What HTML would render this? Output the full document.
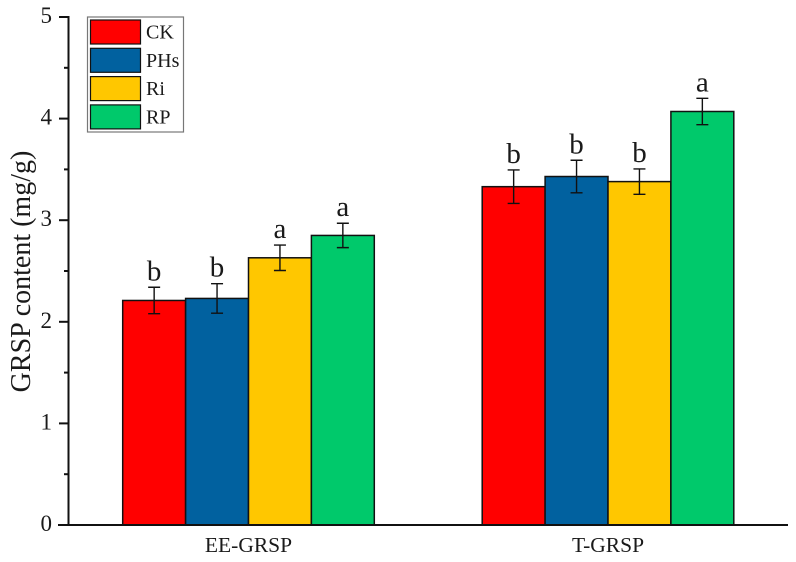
<!DOCTYPE html>
<html>
<head>
<meta charset="utf-8">
<style>
html,body{margin:0;padding:0;background:#fff;}
svg{display:block;}
text{font-family:"Liberation Serif",serif;fill:#1a1a1a;}
</style>
</head>
<body>
<svg id="chart" width="796" height="562" viewBox="0 0 796 562" xmlns="http://www.w3.org/2000/svg">
  <rect x="0" y="0" width="796" height="562" fill="#fff"/>
  <g id="bars"></g>
  <g id="errors"></g>
  <g id="letters"></g>
  <g id="axes"></g>
  <text transform="translate(30,271.5) rotate(-90)" text-anchor="middle" font-size="28">GRSP content (mg/g)</text>
  <g id="legend"></g>
</svg>
<script>
const categories = ['EE-GRSP', 'T-GRSP'];
const seriesNames = ['CK', 'PHs', 'Ri', 'RP'];
const seriesColors = ['#ff0000', '#01619f', '#ffc700', '#00c96b'];
const valuesCK = [2.21, 3.33];
const valuesPHs = [2.23, 3.43];
const valuesRi = [2.63, 3.38];
const valuesRP = [2.85, 4.07];
const errorsCK = [0.13, 0.165];
const errorsPHs = [0.145, 0.16];
const errorsRi = [0.125, 0.125];
const errorsRP = [0.12, 0.13];
const lettersCK = ['b', 'b'];
const lettersPHs = ['b', 'b'];
const lettersRi = ['a', 'b'];
const lettersRP = ['a', 'a'];
const yTickLabels = [0, 1, 2, 3, 4, 5];

const NS = 'http://www.w3.org/2000/svg';
const seriesValues = [valuesCK, valuesPHs, valuesRi, valuesRP];
const seriesErrors = [errorsCK, errorsPHs, errorsRi, errorsRP];
const seriesLetters = [lettersCK, lettersPHs, lettersRi, lettersRP];
const yMin = 0, yMax = 5, plotTop = 17, plotBottom = 525;
const axisX = 68.5, axisEnd = 788;
const groupCenter0 = 248.5, groupStep = 359.5, barWidth = 62.9;
const y = v => plotBottom - (v - yMin) / (yMax - yMin) * (plotBottom - plotTop);
const groupCenter = i => groupCenter0 + i * groupStep;
const barX = (g, s) => groupCenter(g) + (s - seriesNames.length / 2) * barWidth;

function mk(parent, tag, attrs, txt) {
  const el = document.createElementNS(NS, tag);
  for (const k in attrs) el.setAttribute(k, attrs[k]);
  if (txt !== undefined) el.textContent = txt;
  parent.appendChild(el);
  return el;
}

const barsG = document.getElementById('bars');
const errG = document.getElementById('errors');
const letG = document.getElementById('letters');
const axesG = document.getElementById('axes');
const legG = document.getElementById('legend');

categories.forEach((cat, g) => {
  seriesNames.forEach((name, s) => {
    const v = seriesValues[s][g], e = seriesErrors[s][g];
    const x = barX(g, s), cx = x + barWidth / 2;
    const bar = mk(barsG, 'rect', {x: x, y: y(v), width: barWidth, height: plotBottom - y(v), fill: seriesColors[s], stroke: '#111', 'stroke-width': 1.5});
    
    
    const eb = mk(errG, 'path', {d: `M${cx - 6} ${y(v + e)}H${cx + 6}M${cx} ${y(v + e)}V${y(v - e)}M${cx - 6} ${y(v - e)}H${cx + 6}`, fill: 'none', stroke: '#111', 'stroke-width': 1.4});
    
    
    const lt = mk(letG, 'text', {x: cx, y: y(v + e) - 7, 'text-anchor': 'middle', 'font-size': 29}, seriesLetters[s][g]);
    
    
  });
  const lab = mk(axesG, 'text', {x: groupCenter(g), y: 552, 'text-anchor': 'middle', 'font-size': 21.5}, cat);
  
  
});

const xAxis = mk(axesG, 'line', {x1: 58, x2: axisEnd, y1: plotBottom, y2: plotBottom, stroke: '#111', 'stroke-width': 2});


const yAxis = mk(axesG, 'line', {x1: axisX, x2: axisX, y1: plotTop - 1, y2: plotBottom + 1, stroke: '#111', 'stroke-width': 2});



yTickLabels.forEach((t, i) => {
  const major = mk(axesG, 'line', {x1: 59, x2: axisX, y1: y(t), y2: y(t), stroke: '#111', 'stroke-width': 2});
  
  
  const lab = mk(axesG, 'text', {x: 52, y: y(t) + 6, 'text-anchor': 'end', 'font-size': 23}, t);
  
  
  if (i < yTickLabels.length - 1) {
    const minor = mk(axesG, 'line', {x1: 64, x2: axisX, y1: y(t + 0.5), y2: y(t + 0.5), stroke: '#111', 'stroke-width': 2});
    
    
  }
});

const legendBox = mk(legG, 'rect', {x: 87.5, y: 17, width: 96, height: 115, fill: '#fff', stroke: '#777', 'stroke-width': 1.2});


seriesNames.forEach((name, s) => {
  const ty = 20 + s * 28.3;
  const sw = mk(legG, 'rect', {x: 90.5, y: ty, width: 50, height: 24, fill: seriesColors[s], stroke: '#111', 'stroke-width': 1.2});
  
  
  const lb = mk(legG, 'text', {x: 146, y: ty + 18.5, 'font-size': 20}, name);
  
  
});
</script>
</body>
</html>
